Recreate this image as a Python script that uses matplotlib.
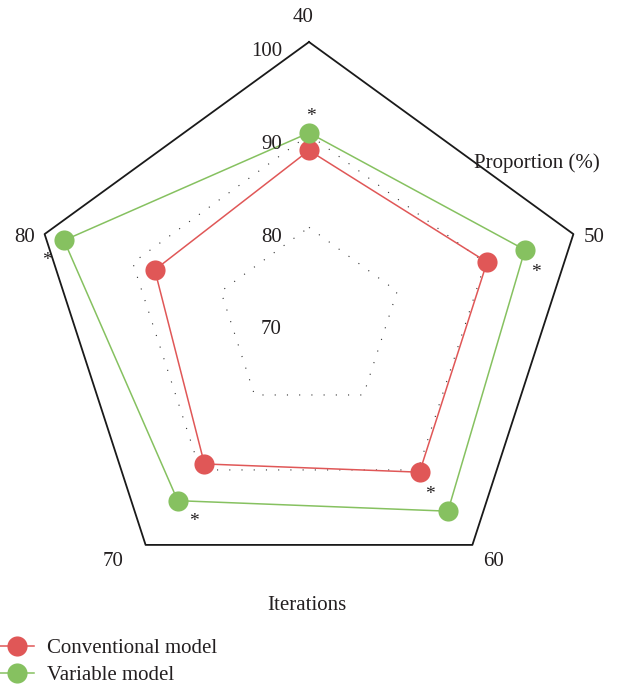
import numpy as np
import matplotlib
matplotlib.use("Agg")
import matplotlib.pyplot as plt
from matplotlib.lines import Line2D
from matplotlib.transforms import ScaledTranslation

plt.rcParams['font.family'] = ['Liberation Serif', 'DejaVu Serif']

categories = ["40", "50", "60", "70", "80"]
conventional = [88.3, 90.2, 90.3, 89.2, 87.5]
variable = [90.2, 94.5, 95.5, 94.1, 97.8]
radial_ticks = [70, 80, 90, 100]
dotted_levels = [80, 90]
series_names = ["Conventional model", "Variable model"]
# asterisk markers: (category index, series)
stars = [(0, "variable"), (1, "variable"), (2, "conventional"), (3, "variable"), (4, "variable")]

RED = "#E05757"
GREEN = "#86C160"
TXT = "#231F20"
FS = 15

W, H = 617, 686
fig = plt.figure(figsize=(W / 100, H / 100), dpi=100)
cx, cy, R = 309, 320, 278
ax = fig.add_axes([(cx - R) / W, (H - cy - R) / H, 2 * R / W, 2 * R / H], projection="polar")
ax.set_theta_zero_location("N")
ax.set_theta_direction(-1)
ax.set_ylim(70, 100)
ax.grid(False)
ax.spines["polar"].set_visible(False)
ax.set_xticks([])
ax.set_yticks([])
ax.patch.set_visible(False)

n = len(categories)
theta = np.linspace(0, 2 * np.pi, n, endpoint=False)
tc = np.concatenate([theta, theta[:1]])

# outer pentagon
ax.plot(tc, [100] * (n + 1), color="#1a1a1a", lw=1.3, clip_on=False, zorder=2)
for lv in dotted_levels:
    ax.plot(tc, [lv] * (n + 1), color="#333333", lw=0.8, linestyle=(0, (1, 10)), zorder=1)

conv_c = conventional + conventional[:1]
var_c = variable + variable[:1]
ax.plot(tc, conv_c, color=RED, lw=1.1, zorder=3)
ax.plot(tc, var_c, color=GREEN, lw=1.1, zorder=3)
ax.plot(theta, conventional, 'o', color=RED, ms=14.5, mec="none", zorder=4, clip_on=False)
ax.plot(theta, variable, 'o', color=GREEN, ms=14.5, mec="none", zorder=4, clip_on=False)

# radial tick labels
off = ScaledTranslation(-27 / 100, -10 / 100, fig.dpi_scale_trans)
for v in radial_ticks:
    ax.text(0, v, str(v), transform=ax.transData + off, ha="right", va="center",
            fontsize=FS, color=TXT)

# category labels (pixel offsets from the outer vertices)
label_off = [(-6, 27), (21, -1), (21, -14), (-33, -14), (-20, -1)]
for t, lab, (dx, dy) in zip(theta, categories, label_off):
    ax.annotate(lab, xy=(t, 100), xytext=(dx * 0.72, dy * 0.72 - 2),
                textcoords="offset points", ha="center", va="center",
                fontsize=FS, color=TXT, annotation_clip=False)

# asterisks
star_off = [(2, 20), (11, -19), (10, -19), (16, -17), (-17, -17)]
for (i, s), (dx, dy) in zip(stars, star_off):
    val = variable[i] if s == "variable" else conventional[i]
    ax.annotate("*", xy=(theta[i], val), xytext=(dx * 0.72, dy * 0.72 - 2.5),
                textcoords="offset points", ha="center", va="center",
                fontsize=14, color=TXT, annotation_clip=False)

fig.text(537 / W, 1 - 163 / H, "Proportion (%)", ha="center", va="center", fontsize=FS, color=TXT)
fig.text(307 / W, 1 - 605 / H, "Iterations", ha="center", va="center", fontsize=FS, color=TXT)

handles = [Line2D([], [], color=RED, lw=1.1, marker='o', ms=14.5, mec="none"),
           Line2D([], [], color=GREEN, lw=1.1, marker='o', ms=14.5, mec="none")]
leg = fig.legend(handles, series_names, loc="lower left", bbox_to_anchor=(-0.006, -0.005),
                 frameon=False, fontsize=FS, handlelength=1.63, handletextpad=0.62,
                 labelspacing=0.35, borderpad=0.2, borderaxespad=0)
for t in leg.get_texts():
    t.set_color(TXT)

fig.savefig("out.png", dpi=100)
